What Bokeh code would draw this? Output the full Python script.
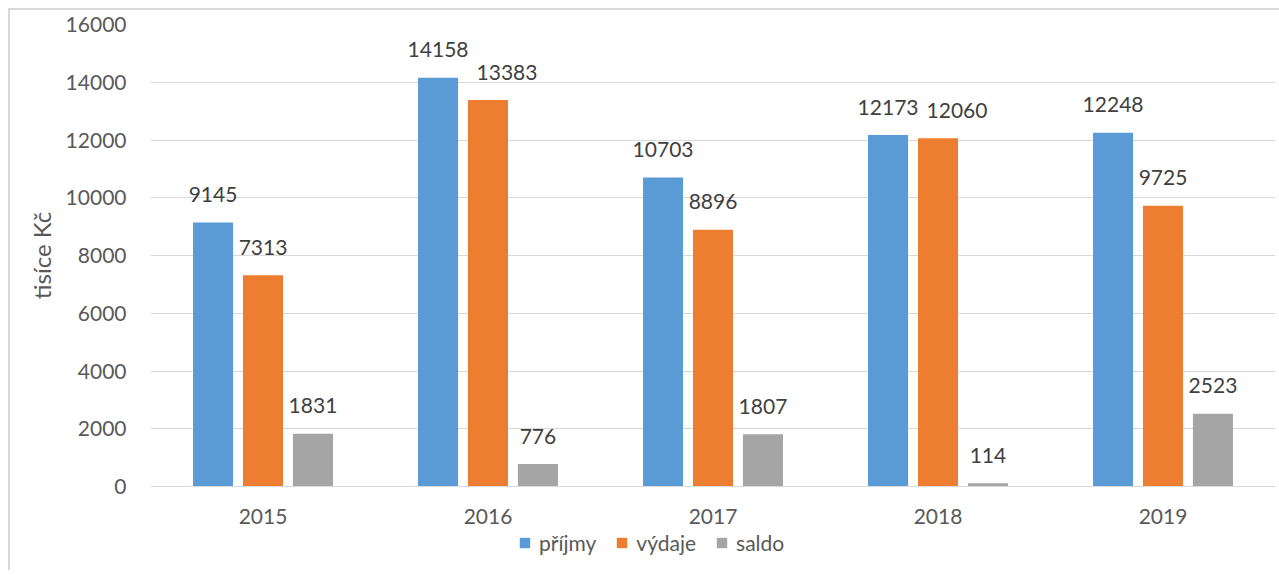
from bokeh.plotting import figure
from bokeh.models import (FactorRange, Legend, LegendItem, SingleIntervalTicker,
                          ColumnDataSource, Range1d)
from bokeh.layouts import column
from bokeh.transform import dodge
from bokeh.core.properties import value
from bokeh.embed import file_html
from bokeh.resources import INLINE

years = ["2015", "2016", "2017", "2018", "2019"]
prijmy = [9145, 14158, 10703, 12173, 12248]
vydaje = [7313, 13383, 8896, 12060, 9725]
saldo = [1831, 776, 1807, 114, 2523]
series_names = ["příjmy", "výdaje", "saldo"]
y_label = "tisíce Kč"

colors = ["#5B9BD5", "#ED7D31", "#A5A5A5"]
FONT = "Lato"

Y_MAX = 16000
FRAME_H = 462                     # frame height in px
PX_PER_UNIT = FRAME_H / Y_MAX
# labels of neighbouring bars that would collide are nudged sideways
def nudges(left_vals, vals):
    return [19 if abs(a - b) * PX_PER_UNIT < 25 else 0 for a, b in zip(left_vals, vals)]

source = ColumnDataSource(dict(
    year=years,
    prijmy=prijmy, vydaje=vydaje, saldo=saldo,
    prijmy_t=[str(v) for v in prijmy],
    vydaje_t=[str(v) for v in vydaje],
    saldo_t=[str(v) for v in saldo],
    prijmy_dx=[0] * len(years),
    vydaje_dx=nudges(prijmy, vydaje),
    saldo_dx=nudges(vydaje, saldo),
))

x_range = FactorRange(factors=years, range_padding=0, factor_padding=0)

# ---- main chart ----
p = figure(x_range=x_range, y_range=Range1d(0, Y_MAX),
           width=1269, height=520,
           output_backend="svg", toolbar_location=None,
           min_border_left=140, min_border_right=4,
           min_border_top=14, min_border_bottom=44)

offsets = [-0.222, 0.0, 0.222]
cols = ["prijmy", "vydaje", "saldo"]
for col, off, c in zip(cols, offsets, colors):
    p.vbar(x=dodge("year", off, range=x_range), top=col, width=0.178,
           source=source, fill_color=c, line_color=None)
    p.text(x=dodge("year", off, range=x_range), y=col, text=col + "_t",
           source=source, text_align="center", text_baseline="middle",
           x_offset=col + "_dx", y_offset=-28,
           text_font=value(FONT), text_font_size="21px", text_color="#404040")

p.outline_line_color = None
p.xgrid.grid_line_color = None
p.ygrid.grid_line_color = "#d9d9d9"
p.ygrid.grid_line_width = 1
p.yaxis.ticker = SingleIntervalTicker(interval=2000)
p.yaxis.axis_line_color = None
p.yaxis.major_tick_line_color = None
p.yaxis.minor_tick_line_color = None
p.yaxis.major_label_standoff = 18
p.yaxis.major_label_text_font = FONT
p.yaxis.major_label_text_font_size = "21px"
p.yaxis.major_label_text_color = "#595959"
p.yaxis.axis_label = y_label
p.yaxis.axis_label_text_font = FONT
p.yaxis.axis_label_text_font_size = "24px"
p.yaxis.axis_label_text_font_style = "normal"
p.yaxis.axis_label_text_color = "#595959"
p.yaxis.axis_label_standoff = 7

p.xaxis.axis_line_color = "#d9d9d9"
p.xaxis.major_tick_line_color = None
p.xaxis.minor_tick_line_color = None
p.xaxis.major_label_standoff = 16
p.xaxis.major_label_text_font = FONT
p.xaxis.major_label_text_font_size = "21px"
p.xaxis.major_label_text_color = "#595959"

# ---- legend strip (shares the category axis; its proxy bars are zero-width and out of view) ----
p2 = figure(x_range=x_range, y_range=Range1d(-2, -1),
            width=1269, height=40, output_backend="svg", toolbar_location=None,
            x_axis_location=None, y_axis_location=None,
            min_border_left=140, min_border_right=4, min_border_top=0, min_border_bottom=0)
p2.grid.visible = False
p2.outline_line_color = None
legend_renderers = []
for col, off, c in zip(cols, offsets, colors):
    legend_renderers.append(p2.vbar(x=dodge("year", off, range=x_range), top=col,
                                    width=0, source=source, fill_color=c, line_color=None))
legend = Legend(items=[LegendItem(label=n, renderers=[r]) for n, r in zip(series_names, legend_renderers)],
                orientation="horizontal", location=(368, 15),
                glyph_width=13, glyph_height=13, label_standoff=8, spacing=19,
                padding=0, margin=0, border_line_color=None, background_fill_alpha=0,
                label_text_font=FONT, label_text_font_size="21px",
                label_text_color="#595959", label_height=20)
p2.add_layout(legend, "center")

layout = column(p, p2, spacing=0)
layout.margin = (8, 0, 0, 8)
layout.styles = {"border-left": "2px solid #d9d9d9", "border-top": "2px solid #d9d9d9"}

open("out.html", "w").write(file_html(layout, INLINE))
